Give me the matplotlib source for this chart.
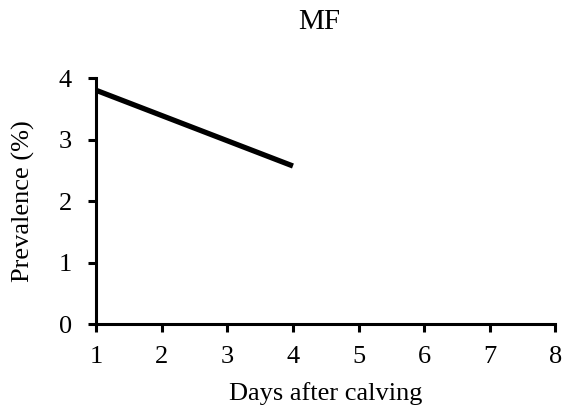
import matplotlib
matplotlib.use("Agg")
import matplotlib.pyplot as plt

days = [1, 2, 3, 4]
prevalence = [3.80, 3.39, 2.98, 2.57]
xticks = [1, 2, 3, 4, 5, 6, 7, 8]
yticks = [0, 1, 2, 3, 4]

plt.rcParams['font.family'] = ['Liberation Serif', 'DejaVu Serif']

fig = plt.figure(figsize=(5.66, 4.15), dpi=100)
ax = fig.add_axes([0.170, 0.219, 0.811, 0.593])

ax.plot(days, prevalence, color='black', lw=3.8, solid_capstyle='butt')

ax.set_xlim(1, 8)
ax.set_ylim(0, 4)
ax.set_xticks(xticks)
ax.set_yticks(yticks)
for s in ['top', 'right']:
    ax.spines[s].set_visible(False)
for s in ['left', 'bottom']:
    ax.spines[s].set_linewidth(2.2)
ax.tick_params(direction='out', length=5.5, width=2.2, labelsize=19)
ax.tick_params(axis='x', pad=10)
ax.tick_params(axis='y', pad=12)

ax.set_xlabel('Days after calving', fontsize=19, labelpad=10)
ax.set_ylabel('Prevalence (%)', fontsize=19, labelpad=17)
ax.set_title('MF', fontsize=21, pad=35, x=0.486)

fig.savefig('out.png', dpi=100)
